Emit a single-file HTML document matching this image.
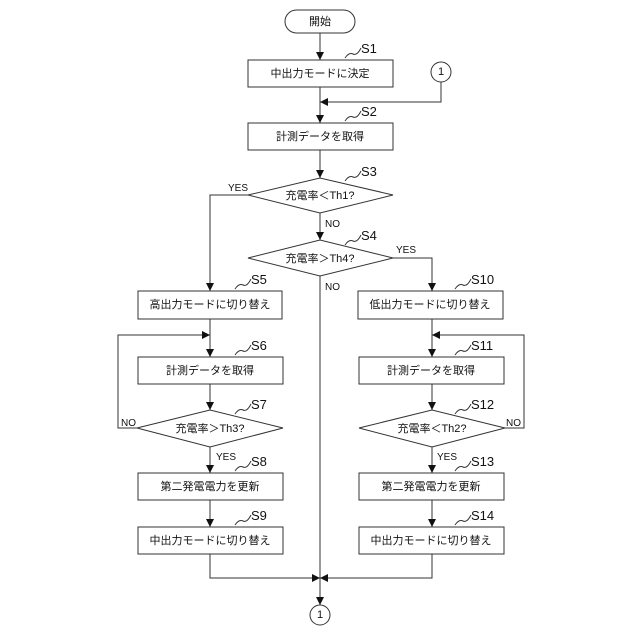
<!DOCTYPE html>
<html><head><meta charset="utf-8"><style>
html,body{margin:0;padding:0;background:#fff;}
svg{display:block;}
text{font-family:"Liberation Sans","Noto Sans CJK JP",sans-serif;fill:#111;}
.t{font-size:11px;text-anchor:middle;dominant-baseline:central;}
.s{font-size:13px;font-family:"Liberation Sans Narrow","Liberation Sans",sans-serif;}
.y{font-size:10px;}
</style></head><body>
<svg width="640" height="640" viewBox="0 0 640 640" xmlns="http://www.w3.org/2000/svg">
<defs><marker id="a" markerWidth="8" markerHeight="8" refX="8" refY="4" orient="auto" markerUnits="userSpaceOnUse"><path d="M0,0 L8,4 L0,8 z" fill="#111"/></marker></defs>
<g fill="none" stroke="#333" stroke-width="1">
<rect x="285" y="10" width="70" height="23" rx="11.5"/>
<rect x="248" y="60" width="145" height="27"/>
<circle cx="441" cy="72" r="10"/>
<rect x="248" y="123" width="145" height="27"/>
<polygon points="248,195 320,178 393,195 320,213"/>
<polygon points="248,258 320,240 393,258 320,276"/>
<rect x="138" y="291" width="144" height="28"/>
<rect x="358" y="291" width="145" height="28"/>
<rect x="138" y="357" width="145" height="27"/>
<rect x="359" y="357" width="145" height="27"/>
<polygon points="137,428 210,410 283,428 210,447"/>
<polygon points="359,428 432,410 505,428 432,447"/>
<rect x="138" y="473" width="145" height="27"/>
<rect x="359" y="473" width="145" height="27"/>
<rect x="138" y="527" width="145" height="27"/>
<rect x="359" y="527" width="145" height="27"/>
<circle cx="320" cy="615" r="10"/>
<!-- connectors -->
<path d="M320,33 V60" marker-end="url(#a)"/>
<path d="M320,87 V123" marker-end="url(#a)"/>
<path d="M441,82 V102 H320" marker-end="url(#a)"/>
<path d="M320,150 V178" marker-end="url(#a)"/>
<path d="M320,213 V240" marker-end="url(#a)"/>
<path d="M248,195 H210 V291" marker-end="url(#a)"/>
<path d="M393,258 H432 V291" marker-end="url(#a)"/>
<path d="M320,276 V605" marker-end="url(#a)"/>
<path d="M210,319 V357" marker-end="url(#a)"/>
<path d="M432,319 V357" marker-end="url(#a)"/>
<path d="M137,428 H118 V335 H210" marker-end="url(#a)"/>
<path d="M505,428 H524 V335 H432" marker-end="url(#a)"/>
<path d="M210,384 V410" marker-end="url(#a)"/>
<path d="M432,384 V410" marker-end="url(#a)"/>
<path d="M210,447 V473" marker-end="url(#a)"/>
<path d="M432,447 V473" marker-end="url(#a)"/>
<path d="M210,500 V527" marker-end="url(#a)"/>
<path d="M432,500 V527" marker-end="url(#a)"/>
<path d="M210,554 V578 H320" marker-end="url(#a)"/>
<path d="M432,554 V578 H320" marker-end="url(#a)"/>
<!-- squiggles -->
<path d="M345,58 q4,-6 8,-4 t8,-6"/>
<path d="M345,121 q4,-6 8,-4 t8,-6"/>
<path d="M345,181 q4,-6 8,-4 t8,-6"/>
<path d="M345,245 q4,-6 8,-4 t8,-6"/>
<path d="M235,289 q4,-6 8,-4 t8,-6"/>
<path d="M455,289 q4,-6 8,-4 t8,-6"/>
<path d="M235,355 q4,-6 8,-4 t8,-6"/>
<path d="M455,355 q4,-6 8,-4 t8,-6"/>
<path d="M235,414 q4,-6 8,-4 t8,-6"/>
<path d="M455,414 q4,-6 8,-4 t8,-6"/>
<path d="M235,471 q4,-6 8,-4 t8,-6"/>
<path d="M455,471 q4,-6 8,-4 t8,-6"/>
<path d="M235,525 q4,-6 8,-4 t8,-6"/>
<path d="M455,525 q4,-6 8,-4 t8,-6"/>
</g>
<text class="t" x="320" y="22">開始</text>
<text class="t" x="320" y="74">中出力モードに決定</text>
<text class="t" x="441" y="72">1</text>
<text class="t" x="320" y="137">計測データを取得</text>
<text class="t" x="320" y="196">充電率＜Th1?</text>
<text class="t" x="320" y="259">充電率＞Th4?</text>
<text class="t" x="210" y="305">高出力モードに切り替え</text>
<text class="t" x="430" y="305">低出力モードに切り替え</text>
<text class="t" x="210" y="371">計測データを取得</text>
<text class="t" x="431" y="371">計測データを取得</text>
<text class="t" x="210" y="429">充電率＞Th3?</text>
<text class="t" x="432" y="429">充電率＜Th2?</text>
<text class="t" x="210" y="487">第二発電電力を更新</text>
<text class="t" x="431" y="487">第二発電電力を更新</text>
<text class="t" x="210" y="541">中出力モードに切り替え</text>
<text class="t" x="431" y="541">中出力モードに切り替え</text>
<text class="t" x="320" y="615">1</text>
<text class="s" x="361" y="53">S1</text>
<text class="s" x="361" y="116">S2</text>
<text class="s" x="361" y="176">S3</text>
<text class="s" x="361" y="240">S4</text>
<text class="s" x="251" y="284">S5</text>
<text class="s" x="471" y="284">S10</text>
<text class="s" x="251" y="350">S6</text>
<text class="s" x="471" y="350">S11</text>
<text class="s" x="251" y="409">S7</text>
<text class="s" x="471" y="409">S12</text>
<text class="s" x="251" y="466">S8</text>
<text class="s" x="471" y="466">S13</text>
<text class="s" x="251" y="520">S9</text>
<text class="s" x="471" y="520">S14</text>
<text class="y" x="228" y="191">YES</text>
<text class="y" x="325" y="227">NO</text>
<text class="y" x="396" y="253">YES</text>
<text class="y" x="325" y="290">NO</text>
<text class="y" x="121" y="426">NO</text>
<text class="y" x="506" y="426">NO</text>
<text class="y" x="216" y="460">YES</text>
<text class="y" x="437" y="460">YES</text>
</svg>
</body></html>
